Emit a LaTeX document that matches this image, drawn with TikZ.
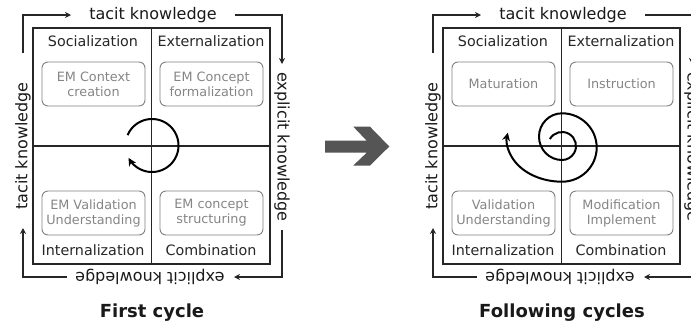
\documentclass[tikz,border=0pt]{standalone}
\usepackage{fontspec}
\setmainfont{DejaVu Sans}
\usetikzlibrary{arrows.meta}
\definecolor{linecol}{HTML}{262626}
\definecolor{boxgray}{HTML}{808080}
\definecolor{txtgray}{HTML}{858585}
\definecolor{bigarrow}{HTML}{555555}
\tikzset{
  framebox/.style={draw=linecol, line width=1.2pt, minimum width=237pt, minimum height=236pt, inner sep=0pt},
  divider/.style={draw=linecol, line width=1.1pt},
  embox/.style={draw=boxgray, line width=0.9pt, rounded corners=6pt, minimum width=103pt, minimum height=44pt,
    align=center, text=txtgray, font=\fontsize{12.8}{15}\selectfont, inner sep=0pt},
  quadlabel/.style={text=linecol, font=\fontsize{14.3}{17}\selectfont, inner sep=0pt},
  outerlabel/.style={text=black!90, font=\fontsize{16}{19}\selectfont, inner sep=0pt},
  flow/.style={draw=linecol, line width=1.4pt, -{Stealth[length=6pt,width=6pt]}},
  cyclearrow/.style={draw=black, line width=2pt, -{Stealth[length=8pt,width=8pt]}},
  titlelabel/.style={font=\fontsize{18}{21}\selectfont\bfseries, text=black!90, inner sep=0pt}
}
\newcommand\kmframe[6]{%
\begin{scope}[xshift=#2]
  \node[framebox] (#1-fr) at (151.5,146) {};
  \draw[divider] (#1-fr.north) -- (#1-fr.south);
  \draw[divider] (#1-fr.west) -- (#1-fr.east);
  \node[quadlabel] (#1-soc) at (93,41) {Socialization};
  \node[quadlabel] (#1-ext) at (211,41) {Externalization};
  \node[quadlabel] (#1-int) at (93,250) {Internalization};
  \node[quadlabel] (#1-com) at (211,250) {Combination};
  \node[embox] (#1-tl) at (93.5,84) {#3};
  \node[embox] (#1-tr) at (211.5,84) {#4};
  \node[embox] (#1-bl) at (93.5,213) {#5};
  \node[embox] (#1-br) at (211.5,213) {#6};
  \node[outerlabel] (#1-top) at (153,15) {tacit knowledge};
  \node[outerlabel, rotate=-90] (#1-right) at (282,147) {explicit knowledge};
  \node[outerlabel, rotate=180] (#1-bottom) at (150,277) {explicit knowledge};
  \node[outerlabel, rotate=90] (#1-left) at (23,146) {tacit knowledge};
  \coordinate (#1-a1) at (23,53);
  \coordinate (#1-a2) at (71,15);
  \coordinate (#1-b1) at (235,15);
  \coordinate (#1-b2) at (282,64);
  \coordinate (#1-c1) at (282,230);
  \coordinate (#1-c2) at (234,277);
  \coordinate (#1-d1) at (67,277);
  \coordinate (#1-d2) at (23,228);
  \draw[flow] (#1-a1) |- (#1-a2);
  \draw[flow] (#1-b1) -| (#1-b2);
  \draw[flow] (#1-c1) |- (#1-c2);
  \draw[flow] (#1-d1) -| (#1-d2);
\end{scope}}
\begin{document}
\begin{tikzpicture}[x=1pt,y=-1pt]
  \useasboundingbox (0,0) rectangle (691,327);
  \clip (0,0) rectangle (691,327);
  \kmframe{f}{0pt}{EM Context\\creation}{EM Concept\\formalization}{EM Validation\\Understanding}{EM concept\\structuring}
  \kmframe{g}{410pt}{Maturation}{Instruction}{Validation\\Understanding}{Modification\\Implement}
  % first-cycle circular arrow
  \draw[cyclearrow] plot[domain=157:-152, samples=80] ({152+26.5*cos(\x)}, {145.5-26.5*sin(\x)});
  % following-cycles spiral (y axis points down: increasing angle = clockwise on screen)
  \coordinate (sc) at (562,146);
  \draw[cyclearrow] (sc) ++(210:14)
    arc[start angle=210, end angle=450, radius=14]
    arc[start angle=90, end angle=270, x radius=23, y radius=23.35]
    arc[start angle=270, end angle=450, x radius=34.7, y radius=34.2]
    arc[start angle=90, end angle=190, x radius=55, y radius=41.7];
  % big gray arrow
  \fill[bigarrow] (325,140.7) -- (366.7,140.7) -- (353.3,126.7) -- (370,126.7) -- (389.3,146.5) -- (370,165.5) -- (353.3,165.5) -- (366.7,152.7) -- (325,152.7) -- cycle;
  \node[titlelabel] (t1) at (152,313) {First cycle};
  \node[titlelabel] (t2) at (562,313) {Following cycles};
\end{tikzpicture}
\end{document}
